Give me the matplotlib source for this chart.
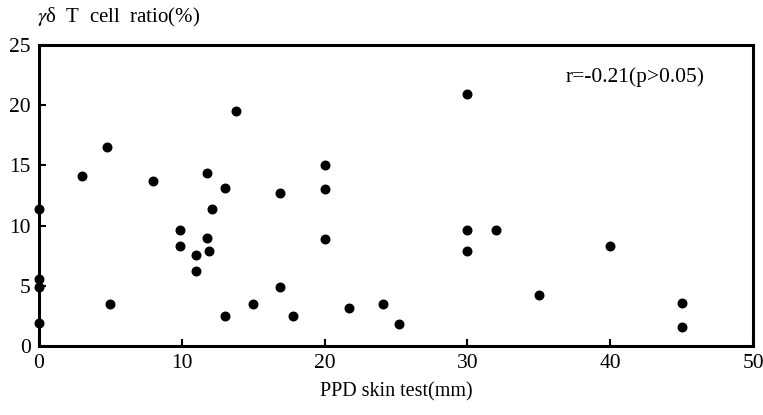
import matplotlib
matplotlib.use("Agg")
import matplotlib.pyplot as plt

plt.rcParams['font.family'] = ['Liberation Serif', 'DejaVu Serif']
plt.rcParams['mathtext.fontset'] = 'stix'

# PPD skin test (mm) vs gamma-delta T cell ratio (%)
ppd = [0, 0, 0, 0,
       3.0, 4.8, 8.0, 11.8, 13.0, 13.8,
       5.0, 9.9, 9.9, 11.0, 11.0, 11.8, 11.9, 12.1, 13.0, 15.0,
       16.9, 16.9, 17.8, 20.0, 20.0, 20.0, 21.7, 24.1, 25.2, 30.0, 30.0, 30.0, 32.0,
       35.0, 40.0, 45.0, 45.0]
ratio = [11.4, 5.6, 4.9, 1.9,
         14.1, 16.5, 13.7, 14.4, 13.1, 19.5,
         3.5, 9.6, 8.3, 7.6, 6.2, 9.0, 7.9, 11.4, 2.5, 3.5,
         12.7, 4.9, 2.5, 15.0, 13.0, 8.9, 3.2, 3.5, 1.8, 20.9, 9.6, 7.9, 9.6,
         4.2, 8.3, 3.6, 1.6]

x_ticks = [0, 10, 20, 30, 40, 50]
y_ticks = [0, 5, 10, 15, 20, 25]

fig = plt.figure(figsize=(7.63, 4.15), dpi=100)
ax = fig.add_axes([0.051, 0.166, 0.936, 0.726])

ax.scatter(ppd, ratio, s=38, color='black', clip_on=False, zorder=3)

ax.set_xlim(0, 50)
ax.set_ylim(0, 25)
ax.set_xticks(x_ticks)
ax.set_yticks(y_ticks)
ax.tick_params(direction='in', length=5, width=1.5, labelsize=15.5, pad=6)
for sp in ax.spines.values():
    sp.set_linewidth(2.2)

ax.set_xlabel('PPD skin test(mm)', fontsize=14.5, labelpad=6)
fig.text(0.049, 0.958, r'$\gamma$δ  T  cell  ratio(%)', fontsize=15, ha='left', va='center')
ax.text(0.737, 0.893, 'r=-0.21(p>0.05)', transform=ax.transAxes, fontsize=15.5, ha='left', va='center')

fig.savefig('out.png', dpi=100, facecolor='white')
